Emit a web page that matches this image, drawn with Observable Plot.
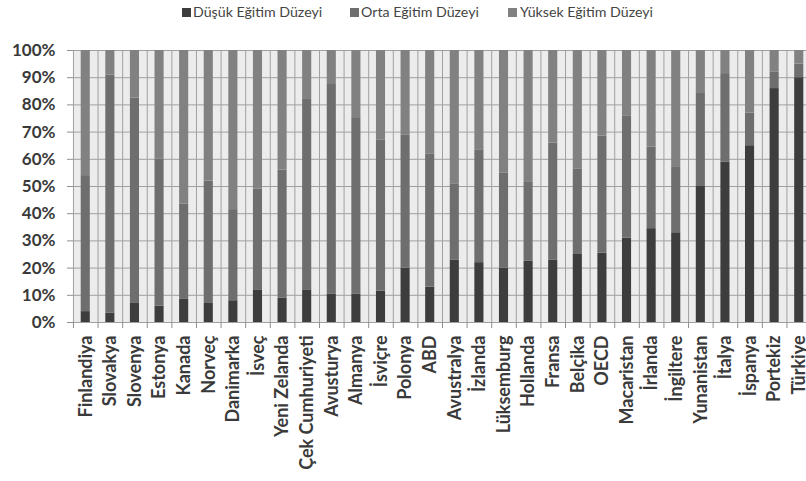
<!DOCTYPE html>
<html><head><meta charset="utf-8">
<script src="https://cdn.jsdelivr.net/npm/d3@7"></script>
<script src="https://cdn.jsdelivr.net/npm/@observablehq/plot@0.6"></script>
<style>
body{margin:0;background:#fff;overflow:hidden;font-family:Lato,sans-serif;}
#legend{position:relative;height:25px;width:806px;}
.item{position:absolute;top:4px;font-size:14.2px;color:#444;white-space:nowrap;line-height:16px;}
.sw{position:absolute;top:8px;width:9px;height:9px;}
</style></head><body>
<div id="legend"></div><div id="chart"></div>
<script>
const countries = ["Finlandiya","Slovakya","Slovenya","Estonya","Kanada","Norveç","Danimarka","İsveç","Yeni Zelanda","Çek Cumhuriyeti","Avusturya","Almanya","İsviçre","Polonya","ABD","Avustralya","İzlanda","Lüksemburg","Hollanda","Fransa","Belçika","OECD","Macaristan","İrlanda","İngiltere","Yunanistan","İtalya","İspanya","Portekiz","Türkiye"];
const dusuk  = [4, 3.5, 7, 6, 8.5, 7, 8, 12, 9, 12, 10.5, 10.5, 11.5, 20, 13, 23, 22, 20, 22.5, 23, 25, 25.5, 31, 34.5, 33, 50, 59, 65, 86, 90];
const orta   = [50, 87.5, 75.5, 54, 35, 45, 33.5, 37, 47, 70, 77, 64.5, 55.5, 49, 49, 28, 41.5, 35, 29, 43, 31.5, 43, 45, 30, 24, 34.5, 32.5, 12, 6, 5];
const yuksek = [46, 9, 17.5, 40, 56.5, 48, 58.5, 51, 44, 18, 12.5, 25, 33, 31, 38, 49, 36.5, 45, 48.5, 34, 43.5, 31.5, 24, 35.5, 43, 15.5, 8.5, 23, 8, 5];
const seriesNames = ["Düşük Eğitim Düzeyi","Orta Eğitim Düzeyi","Yüksek Eğitim Düzeyi"];
const seriesColors = ["#3d3d3d","#6e6e6e","#818181"];
const yTicks = [0,10,20,30,40,50,60,70,80,90,100];

const legendX = [[182,193],[350,361],[508,520]];
const legend = document.getElementById("legend");
seriesNames.forEach((n,k)=>{
  const sw = document.createElement("div");
  sw.className="sw"; sw.style.left=legendX[k][0]+"px"; sw.style.background=seriesColors[k];
  legend.appendChild(sw);
  const t = document.createElement("div");
  t.className="item"; t.style.left=legendX[k][1]+"px"; t.textContent=n;
  legend.appendChild(t);
});

const data = [];
countries.forEach((c,i)=>{
  [dusuk,orta,yuksek].forEach((arr,k)=>data.push({country:c, series:seriesNames[k], value:arr[i]}));
});

const chart = Plot.plot({
  width:806, height:456,
  marginTop:25, marginBottom:159, marginLeft:73, marginRight:0,
  style:{fontFamily:"Lato, sans-serif", background:"transparent", overflow:"visible", color:"#3a3a3a"},
  x:{domain:countries, insetLeft:-7.8, insetRight:-12.8, padding:0.63, round:false, label:null},
  y:{domain:[0,100], label:null},
  color:{domain:seriesNames, range:seriesColors},
  marks:[
    Plot.frame({fill:"#ececec", stroke:null}),
    Plot.ruleY(yTicks, {stroke:"#a0a0a0", strokeWidth:1}),
    Plot.gridX({dx:-12.3, stroke:"#a0a0a0", strokeOpacity:1, strokeWidth:1}),
    Plot.barY(data, {x:"country", y:"value", fill:"series"}),
    Plot.axisY({ticks:yTicks, tickFormat:d=>d+"%", tickSize:6, tickPadding:12, fontSize:17, fontWeight:"bold", stroke:"#909090", fill:"#3a3a3a"}),
    Plot.axisX({tickSize:6, dx:-12.3, tickFormat:()=>"", stroke:"#909090"}),
    Plot.axisX({tickSize:0, tickPadding:13, tickRotate:-90, fontSize:18, fontWeight:"bold", fill:"#3a3a3a"})
  ]
});
document.getElementById("chart").appendChild(chart);
</script>
</body></html>
